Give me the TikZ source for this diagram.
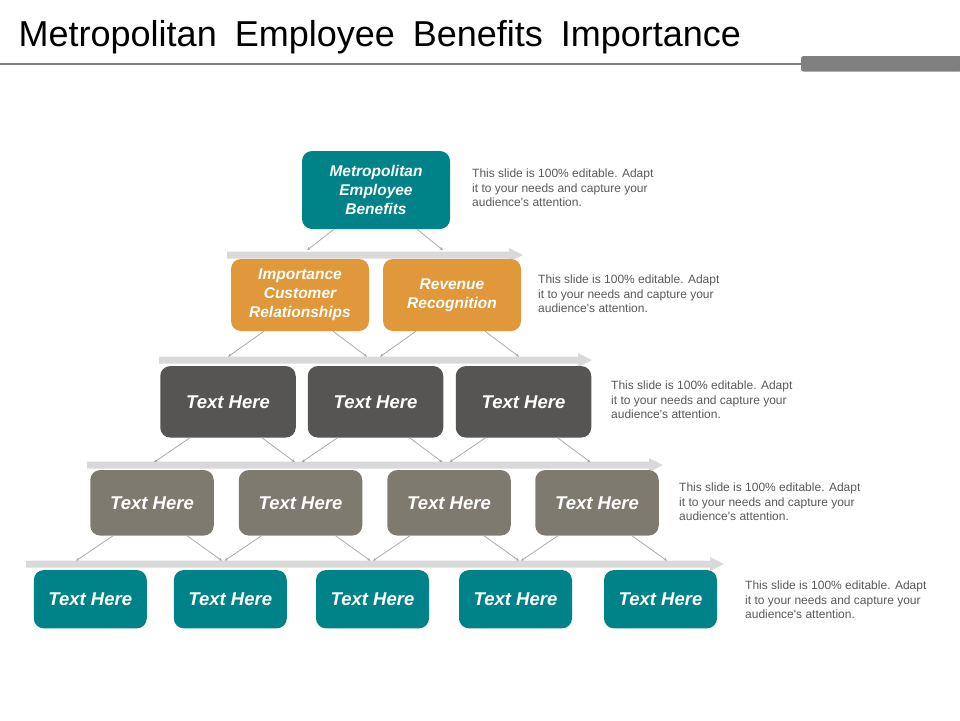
\documentclass[tikz,border=0pt]{standalone}
\usepackage{fontspec}
\setmainfont{Liberation Sans}
\usetikzlibrary{arrows.meta,calc}
\definecolor{teal}{RGB}{0,131,136}
\definecolor{orng}{RGB}{224,152,58}
\definecolor{dgray}{RGB}{87,85,83}
\definecolor{taupe}{RGB}{127,122,112}
\definecolor{barc}{RGB}{217,217,217}
\definecolor{connc}{RGB}{170,170,170}
\definecolor{sidec}{RGB}{89,89,89}
\definecolor{rulec}{RGB}{128,128,128}
\tikzset{
  box/.style={rounded corners=10pt, inner sep=0pt, text=white,
    font=\bfseries\itshape\fontsize{15.5}{19}\selectfont, align=center},
  bigbox/.style={box, font=\bfseries\itshape\fontsize{18.5}{22}\selectfont},
  side/.style={anchor=north west, inner sep=0pt, align=left, text=sidec,
    font=\fontsize{12}{14.5}\selectfont},
  conn/.style={draw=connc, line width=0.8pt, -{Stealth[length=3.5pt,width=3pt]}},
}
\newcommand{\bararrow}[3]{% y, xstart, xtip
  \fill[barc] (#2,#1-3.5) -- (#3-14,#1-3.5) -- (#3-14,#1-7) -- (#3,#1) -- (#3-14,#1+7) -- (#3-14,#1+3.5) -- (#2,#1+3.5) -- cycle;}
\newcommand{\sidetext}{This slide is 100\% editable. Adapt\\it to your needs and capture your\\audience\textquotesingle s attention.}
\begin{document}
\begin{tikzpicture}[x=1pt,y=-1pt]
\useasboundingbox (0,0) rectangle (960,720);
% title
\node[anchor=base west, inner sep=0pt, font=\fontsize{36}{40}\selectfont] (title) at (18.5,46) {\spaceskip=18pt\relax Metropolitan Employee Benefits Importance};
\draw[rulec, line width=2pt] (0,63.5) -- (801,63.5);
\fill[rulec, rounded corners=2.5pt] (801,56) rectangle (962,71.5);
% bars
\bararrow{255}{227}{523}
\bararrow{360}{159}{592}
\bararrow{465}{87}{663}
\bararrow{564}{26}{724}
% boxes
\node[box, fill=teal, minimum width=148pt, minimum height=78pt] (top) at (376,190) {Metropolitan\\Employee\\Benefits};
\node[box, fill=orng, minimum width=138pt, minimum height=72pt] (o1) at (300,295) {Importance\\Customer\\Relationships};
\node[box, fill=orng, minimum width=138pt, minimum height=72pt] (o2) at (452,295) {Revenue\\Recognition};
\foreach \n/\x in {d1/228, d2/375.5, d3/523.5}
  \node[bigbox, fill=dgray, minimum width=135.5pt, minimum height=71.5pt] (\n) at (\x,401.8) {Text Here};
\foreach \n/\x in {t1/152, t2/300.5, t3/449, t4/597}
  \node[bigbox, fill=taupe, minimum width=123.5pt, minimum height=65.5pt] (\n) at (\x,502.8) {Text Here};
\foreach \n/\x in {c1/90.3, c2/230.3, c3/372.5, c4/515.5, c5/660.5}
  \node[bigbox, fill=teal, minimum width=113pt, minimum height=58.3pt] (\n) at (\x,599.2) {Text Here};
% connectors
\draw[conn] ($(top.south)+(-42,0)$) -- ++(-27,21);
\draw[conn] ($(top.south)+(41,0)$) -- ++(26,21);
\foreach \n in {o1,o2}{
  \draw[conn] ($(\n.south)+(-36,0)$) -- ++(-36,25.5);
  \draw[conn] ($(\n.south)+(33,0)$) -- ++(34,25.5);}
\foreach \n in {d1,d2,d3}{
  \draw[conn] ($(\n.south)+(-38,0)$) -- ++(-36,24.5);
  \draw[conn] ($(\n.south)+(34,0)$) -- ++(33,24.5);}
\foreach \n in {t1,t2,t3,t4}{
  \draw[conn] ($(\n.south)+(-39,0)$) -- ++(-37,25);
  \draw[conn] ($(\n.south)+(35,0)$) -- ++(35,25);}
% side texts
\node[side] (s1) at (472,169) {\sidetext};
\node[side] (s2) at (538,275) {\sidetext};
\node[side] (s3) at (611,381) {\sidetext};
\node[side] (s4) at (679,483) {\sidetext};
\node[side] (s5) at (745,581) {\sidetext};
\end{tikzpicture}
\end{document}
